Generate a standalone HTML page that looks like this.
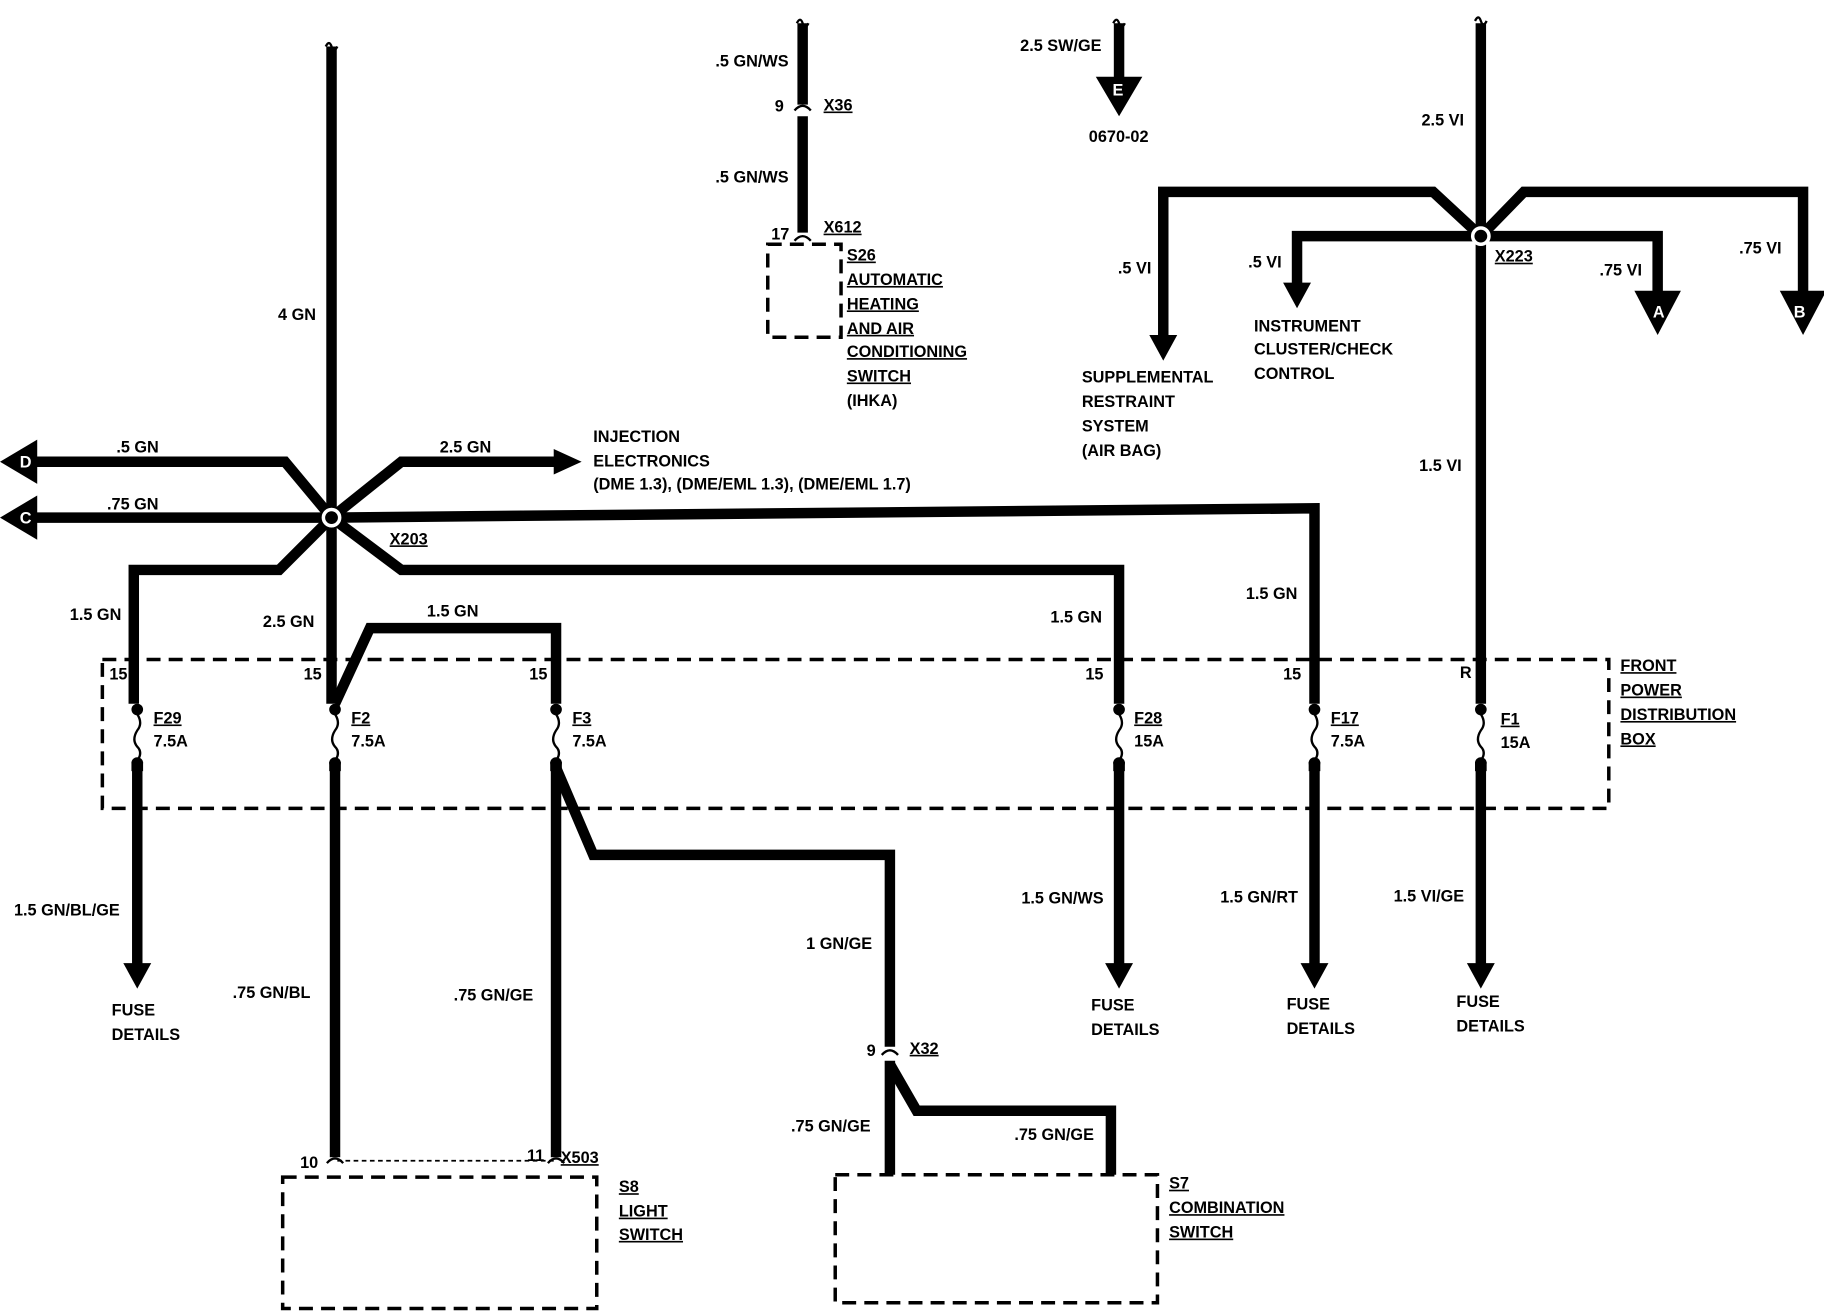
<!DOCTYPE html>
<html><head><meta charset="utf-8"><style>
html,body{margin:0;padding:0;background:#fff;}
svg{display:block;}
text{font-family:"Liberation Sans",sans-serif;font-weight:bold;font-size:14px;fill:#000;}
.u{text-decoration:underline;}
</style></head><body>
<svg width="1824" height="1312" viewBox="0 0 1568 1128" preserveAspectRatio="none" xmlns="http://www.w3.org/2000/svg">
<g fill="none" stroke="#000" stroke-width="9" stroke-linejoin="miter">
<path d="M285 40 V445"/>
<path d="M285 445 V605"/>
<path d="M25 397 H245 L285 445"/>
<path d="M30 445 H285 L1130 437 V605"/>
<path d="M285 445 L345 397 H480"/>
<path d="M285 445 L240 490 H115 V605"/>
<path d="M285 445 L345 490 H962 V605"/>
<path d="M288 605 L318 540 H478 V605"/>
<path d="M118 660 V830"/>
<path d="M288 660 V995"/>
<path d="M478 660 V995"/>
<path d="M478 660 L510 735 H765 V900"/>
<path d="M765 912 V1010"/>
<path d="M765 915 L788 955 H955 V1010"/>
<path d="M962 660 V830"/>
<path d="M1130 660 V830"/>
<path d="M1273 660 V830"/>
<path d="M1273 20 V605"/>
<path d="M1273 203 L1232 165 H1000 V290"/>
<path d="M1273 203 H1115 V245"/>
<path d="M1273 203 L1310 165 H1550 V255"/>
<path d="M1273 203 H1425 V255"/>
<path d="M690 20 V90"/>
<path d="M690 100 V200"/>
<path d="M962 20 V70"/>
</g>
<g fill="#000">
<polygon points="0,397 32,378 32,416"/>
<polygon points="0,445 32,426 32,464"/>
<polygon points="500,397 476,386 476,408"/>
<polygon points="118,850 106,828 130,828"/>
<polygon points="962,850 950,828 974,828"/>
<polygon points="1130,850 1118,828 1142,828"/>
<polygon points="1273,850 1261,828 1285,828"/>
<polygon points="1000,310 988,288 1012,288"/>
<polygon points="1115,265 1103,243 1127,243"/>
<polygon points="1425,288 1405,250 1445,250"/>
<polygon points="1550,288 1530,250 1570,250"/>
<polygon points="962,100 942,66 982,66"/>
</g>
<g font-size="13" text-anchor="middle">
<text x="22" y="402" style="fill:#fff">D</text>
<text x="22" y="450" style="fill:#fff">C</text>
<text x="1426" y="273" style="fill:#fff">A</text>
<text x="1547" y="273" style="fill:#fff">B</text>
<text x="961" y="82" style="fill:#fff">E</text>
</g>
<circle cx="285" cy="445" r="7" fill="#000" stroke="#fff" stroke-width="3"/>
<circle cx="1273" cy="203" r="7" fill="#000" stroke="#fff" stroke-width="3"/>
<g fill="none" stroke="#000" stroke-width="3" stroke-dasharray="12,7">
<rect x="88" y="567" width="1295" height="128"/>
<rect x="243" y="1012" width="270" height="113"/>
<rect x="718" y="1010" width="277" height="110"/>
<rect x="660" y="210" width="63" height="80"/>
</g>
<path d="M290 998 H476" stroke="#000" stroke-width="1.5" stroke-dasharray="4,3"/>
<g stroke="#000" stroke-width="2" fill="#000">
<g transform="translate(118,0)"><circle cx="0" cy="610" r="4"/><path d="M0 614 q5 8 0 14 q-5 8 0 14 q5 5 0 12" fill="none"/><circle cx="0" cy="656" r="4"/><rect x="-4" y="656" width="8" height="6"/></g>
<g transform="translate(288,0)"><circle cx="0" cy="610" r="4"/><path d="M0 614 q5 8 0 14 q-5 8 0 14 q5 5 0 12" fill="none"/><circle cx="0" cy="656" r="4"/><rect x="-4" y="656" width="8" height="6"/></g>
<g transform="translate(478,0)"><circle cx="0" cy="610" r="4"/><path d="M0 614 q5 8 0 14 q-5 8 0 14 q5 5 0 12" fill="none"/><circle cx="0" cy="656" r="4"/><rect x="-4" y="656" width="8" height="6"/></g>
<g transform="translate(962,0)"><circle cx="0" cy="610" r="4"/><path d="M0 614 q5 8 0 14 q-5 8 0 14 q5 5 0 12" fill="none"/><circle cx="0" cy="656" r="4"/><rect x="-4" y="656" width="8" height="6"/></g>
<g transform="translate(1130,0)"><circle cx="0" cy="610" r="4"/><path d="M0 614 q5 8 0 14 q-5 8 0 14 q5 5 0 12" fill="none"/><circle cx="0" cy="656" r="4"/><rect x="-4" y="656" width="8" height="6"/></g>
<g transform="translate(1273,0)"><circle cx="0" cy="610" r="4"/><path d="M0 614 q5 8 0 14 q-5 8 0 14 q5 5 0 12" fill="none"/><circle cx="0" cy="656" r="4"/><rect x="-4" y="656" width="8" height="6"/></g>
</g>
<g fill="none" stroke="#000" stroke-width="2">
<path d="M280 40 q3 -6 5 0 q2 6 5 0"/><path d="M685 20 q3 -6 5 0 q2 6 5 0"/><path d="M957 20 q3 -6 5 0 q2 6 5 0"/><path d="M1268 18 q3 -6 5 0 q2 6 5 0"/>
<path d="M683 95 q7 -8 14 0"/><path d="M683 207 q7 -8 14 0"/><path d="M758 907 q7 -8 14 0"/><path d="M281 1000 q7 -8 14 0"/><path d="M471 1000 q7 -8 14 0"/>
</g>
<text x="239" y="275">4 GN</text>
<text x="100" y="389">.5 GN</text>
<text x="92" y="438">.75 GN</text>
<text x="378" y="389">2.5 GN</text>
<text x="510" y="380">INJECTION</text>
<text x="510" y="401">ELECTRONICS</text>
<text x="510" y="421">(DME 1.3), (DME/EML 1.3), (DME/EML 1.7)</text>
<text x="335" y="468" class="u">X203</text>
<text x="60" y="533">1.5 GN</text>
<text x="226" y="539">2.5 GN</text>
<text x="367" y="530">1.5 GN</text>
<text x="903" y="535">1.5 GN</text>
<text x="1071" y="515">1.5 GN</text>
<text x="1220" y="405">1.5 VI</text>
<text x="1222" y="108">2.5 VI</text>
<text x="961" y="235">.5 VI</text>
<text x="1073" y="230">.5 VI</text>
<text x="1375" y="237">.75 VI</text>
<text x="1495" y="218">.75 VI</text>
<text x="1285" y="225" class="u">X223</text>
<text x="1078" y="285">INSTRUMENT</text>
<text x="1078" y="305">CLUSTER/CHECK</text>
<text x="1078" y="326">CONTROL</text>
<text x="930" y="329">SUPPLEMENTAL</text>
<text x="930" y="350">RESTRAINT</text>
<text x="930" y="371">SYSTEM</text>
<text x="930" y="392">(AIR BAG)</text>
<text x="615" y="57">.5 GN/WS</text>
<text x="666" y="96">9</text>
<text x="708" y="95" class="u">X36</text>
<text x="615" y="157">.5 GN/WS</text>
<text x="663" y="206">17</text>
<text x="708" y="200" class="u">X612</text>
<text x="728" y="224" class="u">S26</text>
<text x="728" y="245" class="u">AUTOMATIC</text>
<text x="728" y="266" class="u">HEATING</text>
<text x="728" y="287" class="u">AND AIR</text>
<text x="728" y="307" class="u">CONDITIONING</text>
<text x="728" y="328" class="u">SWITCH</text>
<text x="728" y="349">(IHKA)</text>
<text x="877" y="44">2.5 SW/GE</text>
<text x="936" y="122">0670-02</text>
<g font-size="12"><text x="94" y="584">15</text><text x="261" y="584">15</text><text x="455" y="584">15</text><text x="933" y="584">15</text><text x="1103" y="584">15</text><text x="1255" y="583">R</text></g>
<text x="132" y="622" class="u">F29</text><text x="132" y="642">7.5A</text>
<text x="302" y="622" class="u">F2</text><text x="302" y="642">7.5A</text>
<text x="492" y="622" class="u">F3</text><text x="492" y="642">7.5A</text>
<text x="975" y="622" class="u">F28</text><text x="975" y="642">15A</text>
<text x="1144" y="622" class="u">F17</text><text x="1144" y="642">7.5A</text>
<text x="1290" y="623" class="u">F1</text><text x="1290" y="643">15A</text>
<text x="1393" y="577" class="u">FRONT</text>
<text x="1393" y="598" class="u">POWER</text>
<text x="1393" y="619" class="u">DISTRIBUTION</text>
<text x="1393" y="640" class="u">BOX</text>
<text x="12" y="787">1.5 GN/BL/GE</text>
<text x="96" y="873">FUSE</text><text x="96" y="894">DETAILS</text>
<text x="878" y="777">1.5 GN/WS</text>
<text x="938" y="869">FUSE</text><text x="938" y="890">DETAILS</text>
<text x="1049" y="776">1.5 GN/RT</text>
<text x="1106" y="868">FUSE</text><text x="1106" y="889">DETAILS</text>
<text x="1198" y="775">1.5 VI/GE</text>
<text x="1252" y="866">FUSE</text><text x="1252" y="887">DETAILS</text>
<text x="200" y="858">.75 GN/BL</text>
<text x="390" y="860">.75 GN/GE</text>
<text x="693" y="816">1 GN/GE</text>
<text x="745" y="908">9</text>
<text x="782" y="906" class="u">X32</text>
<text x="680" y="973">.75 GN/GE</text>
<text x="872" y="980">.75 GN/GE</text>
<text x="258" y="1004">10</text>
<text x="453" y="998">11</text>
<text x="482" y="1000" class="u">X503</text>
<text x="532" y="1025" class="u">S8</text>
<text x="532" y="1046" class="u">LIGHT</text>
<text x="532" y="1066" class="u">SWITCH</text>
<text x="1005" y="1022" class="u">S7</text>
<text x="1005" y="1043" class="u">COMBINATION</text>
<text x="1005" y="1064" class="u">SWITCH</text>
</svg>
</body></html>
